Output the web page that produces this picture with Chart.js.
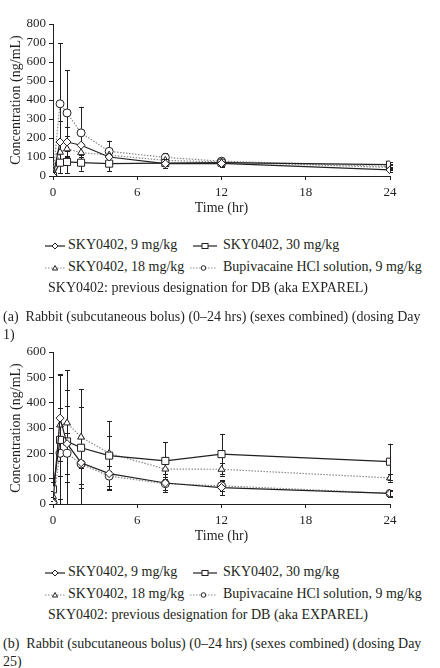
<!DOCTYPE html>
<html>
<head>
<meta charset="utf-8">
<script src="https://cdn.jsdelivr.net/npm/chart.js@4.4.1/dist/chart.umd.min.js"></script>
<style>
  body { margin: 0; background: #fff; width: 440px; height: 668px; position: relative; overflow: hidden;
         font-family: 'Liberation Serif', 'Times New Roman', serif; color: #231f20; }
  .box { position: absolute; left: 0; width: 440px; height: 222px; }
  .txt { position: absolute; font-size: 14px; white-space: nowrap; line-height: 16px; }
  .mk { position: absolute; line-height: 0; }
  .mk svg { display: block; }
</style>
</head>
<body>
<div class="box" style="top:0"><canvas id="chartA" width="440" height="222"></canvas></div>
<div class="box" style="top:328px"><canvas id="chartB" width="440" height="222"></canvas></div>
<div id="legends"></div>

<script>
// sampling times (hr)
const times = [0, 0.5, 1, 2, 4, 8, 12, 24];

const seriesNames = ['SKY0402, 9 mg/kg', 'SKY0402, 30 mg/kg', 'SKY0402, 18 mg/kg', 'Bupivacaine HCl solution, 9 mg/kg'];
const noteText = 'SKY0402: previous designation for DB (aka EXPAREL)';
const captionA = ['(a)\u00a0 Rabbit (subcutaneous bolus) (0\u201324 hrs) (sexes combined) (dosing Day', '1)'];
const captionB = ['(b)\u00a0 Rabbit (subcutaneous bolus) (0\u201324 hrs) (sexes combined) (dosing Day', '25)'];

// Day 1 means and SD (ng/mL)
const day1Sky9 = [0, 179, 179, 162, 100, 65, 66, 32];
const day1Sky9Sd = [2, 110, 80, 60, 40, 25, 20, 10];
const day1Sky30 = [0, 70, 74, 70, 65, 68, 70, 60];
const day1Sky30Sd = [2, 55, 58, 42, 40, 25, 15, 15];
const day1Sky18 = [0, 125, 143, 123, 110, 82, 74, 45];
const day1Sky18Sd = [2, 60, 65, 50, 30, 20, 15, 12];
const day1Bupi = [0, 380, 332, 227, 130, 98, 78, 50];
const day1BupiSd = [2, 320, 225, 137, 56, 22, 15, 12];

// Day 25 means and SD (ng/mL)
const day25Sky9 = [5, 339, 238, 163, 120, 83, 65, 42];
const day25Sky9Sd = [5, 170, 150, 100, 60, 35, 30, 15];
const day25Sky30 = [58, 253, 247, 222, 191, 170, 197, 167];
const day25Sky30Sd = [30, 260, 280, 230, 135, 73, 80, 71];
const day25Sky18 = [30, 312, 320, 264, 200, 138, 137, 103];
const day25Sky18Sd = [20, 200, 130, 120, 70, 30, 25, 15];
const day25Bupi = [5, 200, 200, 158, 110, 80, 72, 42];
const day25BupiSd = [5, 180, 80, 80, 40, 25, 20, 10];

const INK = '#231f20';
const DOT = '#8a8a8a';

// look of each series: solid 9, solid 30, dotted 18, dotted bupi
const styles = [
    { pointStyle: 'rectRot', radius: 4, borderColor: INK, borderDash: [] },
    { pointStyle: 'rect', radius: 5, borderColor: INK, borderDash: [] },
    { pointStyle: 'triangle', radius: 4, borderColor: DOT, borderDash: [1.5, 1.5] },
    { pointStyle: 'circle', radius: 4, borderColor: DOT, borderDash: [1.5, 1.5] }
];

// draws mean +/- SD bars through the y scale
const errorBars = {
    id: 'errorBars',
    beforeDatasetsDraw(chart) {
        const ctx = chart.ctx;
        const yScale = chart.scales.y;
        ctx.save();
        ctx.strokeStyle = INK;
        ctx.lineWidth = 1;
        chart.data.datasets.forEach((ds, i) => {
            const meta = chart.getDatasetMeta(i);
            ds.errors.forEach((sd, j) => {
                const pt = meta.data[j];
                const v = ds.data[j].y;
                const top = yScale.getPixelForValue(v + sd);
                const bot = yScale.getPixelForValue(Math.max(0, v - sd));
                const x = Math.round(pt.x) + 0.5;
                ctx.beginPath();
                ctx.moveTo(x, top); ctx.lineTo(x, bot);
                ctx.moveTo(x - 2.5, Math.round(top) + 0.5); ctx.lineTo(x + 2.5, Math.round(top) + 0.5);
                ctx.moveTo(x - 2.5, Math.round(bot) + 0.5); ctx.lineTo(x + 2.5, Math.round(bot) + 0.5);
                ctx.stroke();
            });
        });
        ctx.restore();
    }
};

function makeChart(canvasId, yMax, values, errors) {
    const datasets = values.map((vals, i) => ({
        label: seriesNames[i],
        data: times.map((t, j) => ({ x: t, y: vals[j] })),
        errors: errors[i],
        borderColor: styles[i].borderColor,
        borderWidth: 1.2,
        borderDash: styles[i].borderDash,
        pointStyle: styles[i].pointStyle,
        pointRadius: styles[i].radius,
        pointBorderColor: INK,
        pointBackgroundColor: '#fff',
        pointBorderWidth: 1,
        tension: 0,
        fill: false
    }));
    // solid series drawn on top
    datasets[0].order = 1; datasets[1].order = 1; datasets[2].order = 2; datasets[3].order = 2;

    return new Chart(document.getElementById(canvasId), {
        type: 'line',
        data: { datasets },
        plugins: [errorBars],
        options: {
            responsive: false,
            animation: false,
            layout: { padding: { top: 24, right: 50, left: 0, bottom: 0 } },
            plugins: { legend: { display: false }, tooltip: { enabled: false } },
            scales: {
                x: {
                    type: 'linear', min: 0, max: 24,
                    afterFit: s => { s.height = 46; },
                    ticks: { stepSize: 6, color: INK, padding: 5, maxRotation: 0,
                             font: { family: "'Liberation Serif'", size: 13 } },
                    grid: { drawOnChartArea: false, drawTicks: true, tickLength: 4, color: INK },
                    border: { color: INK, width: 1 },
                    title: { display: true, text: 'Time (hr)', color: INK, padding: { top: 0, bottom: 5 },
                             font: { family: "'Liberation Serif'", size: 14 } }
                },
                y: {
                    min: 0, max: yMax,
                    afterFit: s => { s.width = 53; },
                    ticks: { stepSize: 100, color: INK, padding: 3,
                             font: { family: "'Liberation Serif'", size: 13 } },
                    grid: { drawOnChartArea: false, drawTicks: true, tickLength: 4, color: INK },
                    border: { color: INK, width: 1 },
                    title: { display: true, text: 'Concentration (ng/mL)', color: INK, padding: { top: 8, bottom: 0 },
                             font: { family: "'Liberation Serif'", size: 14 } }
                }
            }
        }
    });
}

makeChart('chartA', 800,
    [day1Sky9, day1Sky30, day1Sky18, day1Bupi],
    [day1Sky9Sd, day1Sky30Sd, day1Sky18Sd, day1BupiSd]);
makeChart('chartB', 600,
    [day25Sky9, day25Sky30, day25Sky18, day25Bupi],
    [day25Sky9Sd, day25Sky30Sd, day25Sky18Sd, day25BupiSd]);

// small line+marker sample for the legend
function markerSvg(i, w) {
    const s = styles[i];
    const dash = s.borderDash.length ? 'stroke-dasharray="1.5 1.5"' : '';
    const c = w / 2;
    let shape = '';
    if (s.pointStyle === 'rectRot') shape = `<polygon points="${c},2 ${c + 3},5 ${c},8 ${c - 3},5" fill="#fff" stroke="${INK}"/>`;
    if (s.pointStyle === 'rect') shape = `<rect x="${c - 3}" y="2.5" width="6" height="5" fill="#fff" stroke="${INK}"/>`;
    if (s.pointStyle === 'triangle') shape = `<polygon points="${c},2.5 ${c + 2.6},7 ${c - 2.6},7" fill="#fff" stroke="${INK}"/>`;
    if (s.pointStyle === 'circle') shape = `<circle cx="${c}" cy="5" r="2.3" fill="#fff" stroke="${INK}"/>`;
    return `<svg width="${w}" height="10"><line x1="0" y1="5" x2="${w}" y2="5" stroke="${s.borderColor}" stroke-width="1.2" ${dash}/>${shape}</svg>`;
}

function addLegend(offset, caption) {
    const host = document.getElementById('legends');
    const rows = [
        { y: 245, items: [[0, 45, 20, 68], [1, 193, 24, 223]] },
        { y: 267, items: [[2, 45, 20, 68], [3, 190, 27, 223]] }
    ];
    let html = '';
    rows.forEach(r => {
        r.items.forEach(([i, mx, mw, tx]) => {
            html += `<div class="mk" style="left:${mx}px;top:${r.y + offset - 4}px">${markerSvg(i, mw)}</div>`;
            html += `<div class="txt" style="left:${tx}px;top:${r.y + offset - 8}px">${seriesNames[i]}</div>`;
        });
    });
    html += `<div class="txt" style="left:48px;top:${288 + offset - 8}px">${noteText}</div>`;
    html += `<div class="txt" style="left:3px;top:${317 + offset - 8}px">${caption[0]}</div>`;
    html += `<div class="txt" style="left:3px;top:${335 + offset - 8}px">${caption[1]}</div>`;
    host.insertAdjacentHTML('beforeend', html);
}

addLegend(0, captionA);
addLegend(327, captionB);
</script>
</body>
</html>
